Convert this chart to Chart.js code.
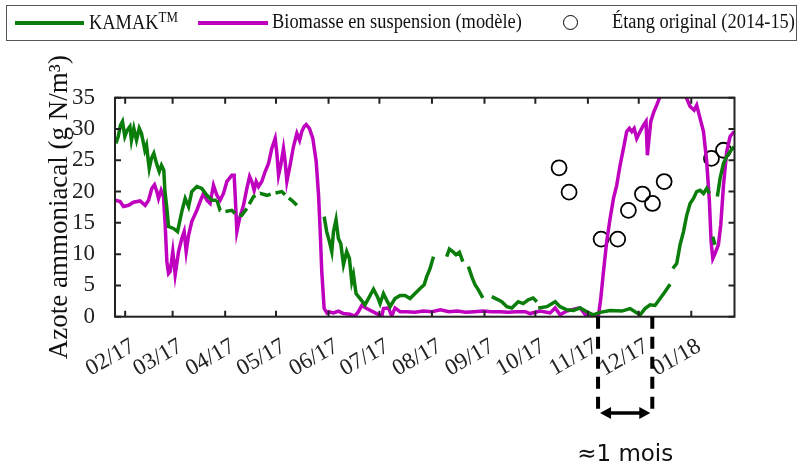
<!DOCTYPE html>
<html>
<head>
<meta charset="utf-8">
<script src="https://cdn.jsdelivr.net/npm/chart.js"></script>
<style>
body { margin: 0; background: #fff; }
#wrap { position: relative; width: 801px; height: 468px; }
#legend { position: absolute; left: 6px; top: 5px; width: 791px; height: 36px; box-sizing: border-box;
  border: 1.5px solid #555; font-family: "Liberation Serif", serif; font-size: 20px; color: #111; }
#legend .ln { position: absolute; top: 15px; height: 3.5px; }
#legend .tx { position: absolute; top: 4px; white-space: nowrap; transform: scaleX(0.92); transform-origin: left; }
#legend sup { font-size: 14px; vertical-align: 7px; }
#legend .ring { position: absolute; top: 9px; width: 13px; height: 13px; border: 1.8px solid #000; border-radius: 50%; }
#note { position: absolute; top: 440px; font-family: "DejaVu Sans", sans-serif; font-size: 23px; color: #111; white-space: nowrap; }
</style>
</head>
<body>
<div id="wrap">
  <canvas id="mycanvas" width="801" height="468"></canvas>
  <div id="legend">
    <div class="ln" style="left:8px;width:69px;background:#0a7d0a"></div>
    <div class="tx" style="left:82px">KAMAK<sup>TM</sup></div>
    <div class="ln" style="left:191px;width:70px;background:#bf00bf"></div>
    <div class="tx" style="left:265px">Biomasse en suspension (modèle)</div>
    <div class="ring" style="left:556px"></div>
    <div class="tx" style="left:605px">Étang original (2014-15)</div>
  </div>
  <div id="note">≈1 mois</div>
</div>
<script>
// days counted from 01/01/2017
var monthTicks = [31, 59, 90, 120, 151, 181, 212, 243, 273, 304, 334, 365];
var monthLabels = ['02/17', '03/17', '04/17', '05/17', '06/17', '07/17', '08/17', '09/17', '10/17', '11/17', '12/17', '01/18'];
var yTicks = [0, 5, 10, 15, 20, 25, 30, 35];

// KAMAK measured (solid, null = gap)
var kamakDays = [25.5, 26.9, 28.2, 29.4, 30.8, 32.2, 33.8, 34.7, 36.1, 37.7, 39.3, 40.6, 41.6, 42.6, 43.6, 44.6, 45.2, 46.5, 47.9, 49.5,
  51.1, 52.4, 53.8, 54.4, 55.6, 56.6, 59.5, 61.9, 64.4, 66.4, 68.4, 70.3, 73.3, 76.2, 79.2, 82.1, 85.1, 86,
  148.4, 149.9, 151.5, 152.9, 153.9, 155.4, 156.8, 158.2, 159.8, 161.7, 163.3, 164.7, 165.7, 167.2, 169.6, 172.5, 174.5, 177.5,
  179.8, 181.4, 183.4, 185.7, 187.3, 190.2, 193.2, 196.1, 199.1, 202.0, 205.0, 207.4, 208.9, 210.9, 212.9, 216,
  220.7, 222.3, 224.3, 226.2, 228.2, 230.2, 232,
  233.5, 235.5, 237.4, 239.4, 242.0, 245,
  247.3, 251.1, 253.2, 256.2, 259.1, 262.9, 265.8, 268.8, 271.7, 273.9, 274.3,
  274.7, 279.8, 284.7, 287.6, 291.6, 295.5, 299.4, 303.4, 307.1, 311.2, 317.1, 324.0, 328.9, 331.8, 334.8,
  337.7, 340.7, 343.6, 346.6, 349.5, 352.5, 353.3,
  354.1, 356.4, 358.4, 360.4, 362.3, 364.3, 366.3, 368.2, 370.2, 372.2, 374.1, 375.7, 376.7,
  377.7, 379.0, 379.7,
  380.4, 382.0, 384.0, 385.9, 387.9, 390.3];
var kamakVals = [27.7, 28.8, 30.6, 31.2, 28.8, 29.8, 30.4, 28.2, 30.1, 28.2, 30.1, 29.3, 28.0, 26.6, 27.4, 25.0, 23.7, 25.3, 26.1, 24.5,
  23.2, 24.2, 23.4, 20.2, 17.3, 14.4, 14.1, 13.6, 16.8, 18.9, 17.6, 20.0, 20.8, 20.5, 19.4, 18.6, 18.6, null,
  16.0, 13.6, 12.0, 10.4, 13.6, 15.5, 12.5, 11.7, 8.3, 10.4, 9.3, 5.6, 6.7, 3.7, 2.9, 1.9, 2.9, 4.4,
  3.2, 2.1, 3.7, 2.4, 1.6, 2.9, 3.4, 3.4, 2.9, 3.7, 4.5, 5.1, 6.4, 7.7, 9.6, null,
  9.6, 10.8, 10.4, 9.9, 10.3, 8.8, null,
  8.0, 6.4, 5.1, 4.3, 3.0, null,
  3.2, 2.7, 2.4, 1.6, 1.4, 2.4, 2.1, 2.7, 3.0, 2.4, null,
  1.4, 1.6, 2.4, 1.6, 1.1, 1.0, 1.4, 0.8, 0.3, 0.7, 1.0, 0.9, 1.3, 0.8, 0.3,
  1.3, 1.9, 1.8, 2.9, 4.0, 5.2, null,
  7.7, 8.5, 11.5, 13.6, 16.2, 18.1, 18.9, 20.0, 20.2, 19.7, 20.5, 19.7, null,
  12.8, 11.5, null,
  19.2, 22.1, 24.5, 25.6, 26.4, 27.2];

// KAMAK dashed stretch
var kamakDashDays = [85.1, 87.0, 90.0, 93.9, 96.9, 99.8, 102.8, 106.7, 110.6, 114.6, 118.5, 123.4, 126.4, 129.3, 132.3];
var kamakDashVals = [18.6, 17.0, 16.8, 17.0, 16.2, 16.2, 17.3, 19.2, 19.7, 19.4, 19.7, 20.0, 19.2, 18.6, 17.8];

// Biomasse en suspension (modele)
var bioDays = [25.1, 28.0, 30.0, 33.0, 35.9, 39.8, 42.8, 44.8, 46.7, 48.3, 49.7, 50.7, 52.2, 53.6, 54.6, 55.6, 56.6, 57.5, 59.1, 60.5,
  62.5, 64.4, 65.8, 67.0, 68.4, 70.3, 73.3, 75.2, 77.2, 79.2, 81.1, 83.1, 85.1, 87.0, 89.0, 91.0, 93.9, 95.3, 95.9, 96.9,
  98.5, 100.8, 102.8, 104.4, 105.7, 107.1, 108.3, 109.7, 111.6, 113.6, 115.6, 117.5, 119.5, 120.5, 121.5, 122.8, 124.4, 125.4, 126.4, 128.3,
  130.3, 132.3, 133.9, 135.2, 136.6, 137.8, 139.7, 141.7, 143.7, 145.1, 146.0, 147.0, 148.4, 150.0,
  150.9, 153.9, 156.8, 159.8, 163.7, 166.6, 168.6, 170.6, 173.5, 176.5, 179.4, 182.4, 183.4, 186.3, 188.3, 190.2, 193.2,
  197, 202, 207, 212, 217, 222, 227, 232, 237, 242, 247, 252, 257, 262, 267,
  269.9, 275.8, 281.7, 284.7, 287.6, 291.5, 297.4, 299.4, 303.4, 306.5, 310.2, 311.6, 313.2, 315.1, 317.1, 319.1, 321.0, 323.0, 325.0, 326.9, 328.5,
  329.9, 331.3, 332.8, 334.8, 336.8, 338.3, 339.1, 339.9, 341.1, 343.0, 344.6, 346.6, 349, 352, 356, 359, 362.3, 364.3, 366.7, 368.2,
  370.2, 372.2, 374.1, 375.7, 376.7, 377.7, 379.0, 381.0, 382.4, 384.0, 385.9, 387.9, 390.3];
var bioVals = [18.6, 18.4, 17.6, 17.8, 18.3, 18.5, 17.8, 18.6, 20.5, 21.1, 20.0, 18.9, 20.2, 19.2, 14.7, 8.8, 6.9, 7.2, 10.4, 6.7,
  10.4, 12.5, 13.6, 10.4, 13.0, 15.2, 17.0, 18.4, 19.7, 18.6, 18.1, 21.0, 19.4, 18.6, 19.7, 21.6, 22.6, 22.6, 19.4, 13.6,
  15.7, 17.8, 20.5, 22.4, 21.6, 20.2, 21.6, 20.8, 21.6, 23.2, 24.5, 26.9, 28.5, 26.1, 22.6, 24.2, 26.9, 24.8, 21.6, 24.2,
  27.2, 29.3, 28.2, 29.6, 30.4, 30.7, 30.1, 28.5, 24.8, 19.4, 14.1, 7.2, 1.3, 0.6,
  0.8, 0.6, 0.9, 0.5, 0.4, 0.1, 0.8, 1.8, 1.3, 0.9, 0.5, 0.1, 1.3, 1.4, 0.1, 1.4, 0.8,
  0.8, 0.7, 0.9, 0.8, 1.1, 0.8, 0.9, 0.7, 0.8, 0.9, 0.8, 0.8, 0.7, 0.8, 0.8,
  0.5, 0.9, 0.6, 1.4, 0.3, 0.9, 1.3, 1.4, 0.0, 0.1, 0.1, 2.9, 7.2, 12.0, 15.7, 18.9, 21.0, 24.2, 26.9, 29.6, 30.1,
  29.6, 30.1, 28.5, 29.6, 30.6, 31.2, 25.8, 28.0, 31.2, 32.8, 33.8, 35.2, 37, 39, 40, 38, 34.9, 33.6, 33.0, 33.8,
  31.7, 29.6, 24.8, 18.4, 12.0, 9.3, 10.1, 11.5, 14.7, 21.0, 26.4, 28.8, 29.6];

// Etang original (2014-15)
var pondDays = [287.0, 292.9, 311.8, 321.6, 327.9, 336.2, 342.1, 349.0, 376.9, 384.0];
var pondVals = [23.8, 19.9, 12.4, 12.4, 17.0, 19.6, 18.1, 21.6, 25.3, 26.6];

// "1 mois" bracket
var noteDays = [310, 342];

function pts(xs, ys) {
	var out = [];
	for (var i in xs) out.push({x: xs[i], y: ys[i]});
	return out;
}

var frame = {
	id: 'frame',
	afterDatasetsDraw: function(chart) {
		var ctx = chart.ctx, a = chart.chartArea, x = chart.scales.x, y = chart.scales.y;
		ctx.save();
		ctx.strokeStyle = '#222';
		ctx.lineWidth = 2;
		ctx.strokeRect(a.left, a.top, a.right - a.left, a.bottom - a.top);
		ctx.beginPath();
		monthTicks.forEach(function(v) {
			var px = x.getPixelForValue(v);
			ctx.moveTo(px, a.bottom); ctx.lineTo(px, a.bottom - 6);
			ctx.moveTo(px, a.top); ctx.lineTo(px, a.top + 6);
		});
		yTicks.forEach(function(v) {
			var py = y.getPixelForValue(v);
			ctx.moveTo(a.left, py); ctx.lineTo(a.left + 6, py);
			ctx.moveTo(a.right, py); ctx.lineTo(a.right - 6, py);
		});
		ctx.stroke();

		// bracket below the axis
		var x1 = x.getPixelForValue(noteDays[0]), x2 = x.getPixelForValue(noteDays[1]);
		var yb = 413;
		ctx.strokeStyle = '#000';
		ctx.fillStyle = '#000';
		ctx.lineWidth = 4;
		ctx.setLineDash([12, 8]);
		ctx.beginPath();
		ctx.moveTo(x1, a.bottom); ctx.lineTo(x1, yb + 2);
		ctx.moveTo(x2, a.bottom); ctx.lineTo(x2, yb + 2);
		ctx.stroke();
		ctx.setLineDash([]);
		ctx.lineWidth = 3.5;
		ctx.beginPath();
		ctx.moveTo(x1 + 8, yb); ctx.lineTo(x2 - 8, yb);
		ctx.stroke();
		ctx.beginPath();
		ctx.moveTo(x1 + 2, yb); ctx.lineTo(x1 + 13, yb - 6); ctx.lineTo(x1 + 13, yb + 6); ctx.closePath();
		ctx.moveTo(x2 - 2, yb); ctx.lineTo(x2 - 13, yb - 6); ctx.lineTo(x2 - 13, yb + 6); ctx.closePath();
		ctx.fill();
		ctx.restore();

		var note = document.getElementById('note');
		note.style.left = ((x1 + x2) / 2 - note.offsetWidth / 2) + 'px';
	}
};

var ctx = document.getElementById('mycanvas');
var chart = new Chart(ctx, {
	type: 'line',
	data: {
		datasets: [
			{
				label: 'KAMAK',
				data: pts(kamakDays, kamakVals),
				borderColor: '#0a7d0a',
				borderWidth: 3.5,
				pointRadius: 0,
				spanGaps: false,
				clip: 0
			},
			{
				label: 'KAMAK (tirets)',
				data: pts(kamakDashDays, kamakDashVals),
				borderColor: '#0a7d0a',
				borderWidth: 3.5,
				borderDash: [11, 5],
				pointRadius: 0,
				clip: 0
			},
			{
				label: 'Biomasse en suspension (modèle)',
				data: pts(bioDays, bioVals),
				borderColor: '#bf00bf',
				borderWidth: 3.5,
				pointRadius: 0,
				clip: 0
			},
			{
				label: 'Étang original (2014-15)',
				data: pts(pondDays, pondVals),
				showLine: false,
				pointRadius: 7.5,
				pointBorderWidth: 1.8,
				pointBorderColor: '#000',
				pointBackgroundColor: 'rgba(0,0,0,0)'
			}
		]
	},
	options: {
		responsive: false,
		animation: false,
		layout: { padding: { top: 97.7, right: 66.5, left: 0, bottom: 0 } },
		plugins: { legend: { display: false }, tooltip: { enabled: false } },
		scales: {
			x: {
				type: 'linear',
				min: 25,
				max: 390.5,
				afterBuildTicks: function(scale) {
					scale.ticks = monthTicks.map(function(v) { return {value: v}; });
				},
				afterFit: function(scale) { scale.height = 468 - 316.7; },
				grid: { display: false },
				border: { display: false },
				ticks: {
					autoSkip: false,
					maxRotation: 30,
					minRotation: 30,
					labelOffset: 8,
					padding: 8,
					color: '#222',
					font: { family: 'Liberation Serif', size: 23 },
					callback: function(v) { return monthLabels[monthTicks.indexOf(v)]; }
				}
			},
			y: {
				min: 0,
				max: 35,
				afterBuildTicks: function(scale) {
					scale.ticks = yTicks.map(function(v) { return {value: v}; });
				},
				afterFit: function(scale) { scale.width = 115; },
				grid: { display: false },
				border: { display: false },
				ticks: {
					padding: 12,
					color: '#222',
					font: { family: 'Liberation Serif', size: 23 }
				},
				title: {
					display: true,
					text: 'Azote ammoniacal (g N/m³)',
					color: '#111',
					font: { family: 'Liberation Serif', size: 27 },
					padding: { top: 44, bottom: 0 }
				}
			}
		}
	},
	plugins: [frame]
});
</script>
</body>
</html>
